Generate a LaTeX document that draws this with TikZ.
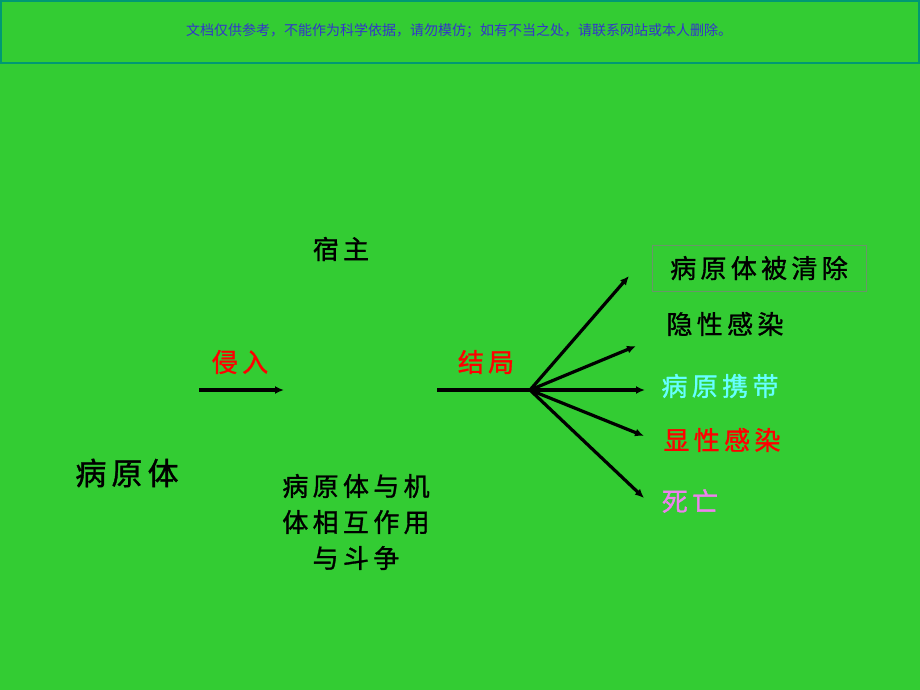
\documentclass[tikz,border=0pt]{standalone}
\usepackage{fontspec}
\newfontfamily\cjk{Noto Sans CJK SC}
\newfontfamily\cjkthick[FakeBold=1.2]{Noto Sans CJK SC}
\usetikzlibrary{arrows.meta}
\definecolor{bggreen}{HTML}{33CC33}
\definecolor{bannerline}{HTML}{009973}
\definecolor{bannertext}{HTML}{3333CC}
\definecolor{carrier}{HTML}{66FFFF}
\definecolor{deathpink}{HTML}{EE82EE}
\tikzset{
  word/.style={inner sep=0.75pt, font=\cjkthick\fontsize{26}{30}\selectfont},
  arrowline/.style={line width=3.2pt, -{Latex[length=9pt,width=8pt]}}
}
\begin{document}
\begin{tikzpicture}[x=1pt, y=1pt, yscale=-1, xscale=1]
% 背景与页眉
\fill [bggreen] (0, 0) rectangle (920, 690);
\draw [bannerline, line width=2pt] (1, 1) rectangle (919, 63);
\node (banner) [inner sep=0pt, bannertext, font=\cjk\fontsize{14}{16}\selectfont] at (459, 31) {文档仅供参考，不能作为科学依据，请勿模仿；如有不当之处，请联系网站或本人删除。};
% 左侧
\node (host) [word] at (341, 249) {宿\,主};
\node (invade) [word, red] at (240, 362) {侵\,入};
\node (pathogen) [word, font=\cjkthick\fontsize{31}{34}\selectfont] at (127, 473) {病\,原\,体};
\node (struggle) [word, align=center, font=\cjkthick\fontsize{26}{36}\selectfont] at (356, 522) {病\,原\,体\,与\,机\\体\,相\,互\,作\,用\\与\,斗\,争};
\node (outcome) [word, red] at (486, 362) {结\,局};
% 结局
\node (cleared) [word, draw=gray!70!bggreen, line width=1pt, minimum width=214pt, minimum height=46pt] at (759, 268) {病\,原\,体\,被\,清\,除};
\node (latent) [word] at (725, 324) {隐\,性\,感\,染};
\node (carry) [word, carrier] at (720, 386) {病\,原\,携\,带};
\node (overt) [word, red] at (722, 440) {显\,性\,感\,染};
\node (death) [word, deathpink] at (690, 501) {死\,亡};
% 箭头
\coordinate (inA) at (199, 390);
\coordinate (inB) at (284, 390);
\coordinate (outA) at (437, 390);
\coordinate (hub) at (530, 390);
\coordinate (t1) at (629, 276);
\coordinate (t2) at (636, 346);
\coordinate (t3) at (645, 390);
\coordinate (t4) at (644, 436);
\coordinate (t5) at (644, 498);
\draw [arrowline] (inA) -- (inB);
\draw [line width=3.2pt] (outA) -- (hub);
\foreach \t in {t1, t2, t3, t4, t5}
  \draw [arrowline] (hub) -- (\t);
\end{tikzpicture}
\end{document}
